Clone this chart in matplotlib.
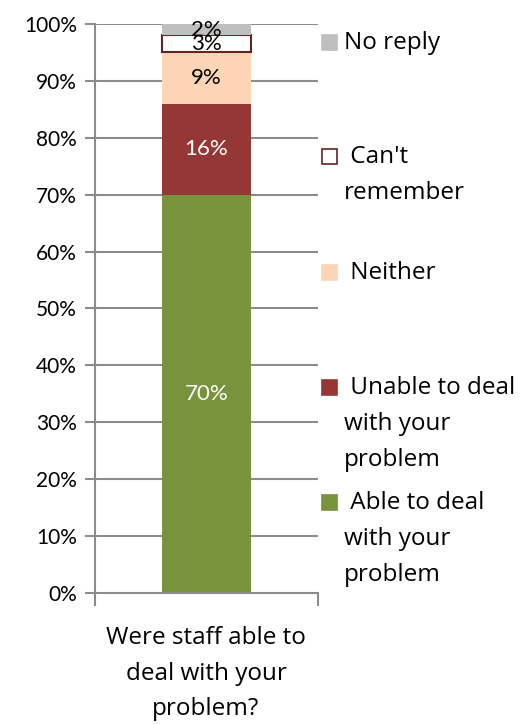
import matplotlib.pyplot as plt
from matplotlib.patches import Rectangle
from matplotlib.ticker import PercentFormatter

plt.rcParams['font.family'] = ['Lato', 'DejaVu Sans']

# Réponses, du bas vers le haut de la barre
categories = [' Able to deal\nwith your\nproblem', ' Unable to deal\nwith your\nproblem',
              ' Neither', " Can't\nremember", 'No reply']
values = [70, 16, 9, 3, 2]
colors = ['#77933C', '#953735', '#FCD5B5', '#FFFFFF', '#BFBFBF']
edges = ['none', 'none', 'none', '#632523', 'none']
label_colors = ['white', 'white', 'black', 'black', 'black']
question = 'Were staff able to\ndeal with your\nproblem?'

big = dict(family=['Open Sans', 'DejaVu Sans'], fontsize=17.5)

fig = plt.figure(figsize=(5.3, 7.24), dpi=100)
ax = fig.add_axes([0.179, 0.181, 0.421, 0.786])

grid_col = '#8C8C8C'
for y in range(10, 101, 10):
    ax.axhline(y, color=grid_col, lw=1.5, zorder=0)

bottom = 0
for val, col, ec, lc in zip(values, colors, edges, label_colors):
    ax.bar(0, val, width=0.4, bottom=bottom, color=col, edgecolor=ec,
           linewidth=1.5, zorder=2)
    ax.text(0, bottom + val / 2, f'{val}%', ha='center', va='center',
            fontsize=16, color=lc, zorder=3)
    bottom += val

ax.set_xlim(-0.5, 0.5)
ax.set_ylim(0, 100)
ax.set_yticks(range(0, 101, 10))
ax.yaxis.set_major_formatter(PercentFormatter(decimals=0))
ax.tick_params(axis='y', labelsize=15, length=7, width=1.5, color=grid_col, pad=6)
ax.set_xticks([-0.5, 0.5])
ax.set_xticklabels(['', ''])
ax.tick_params(axis='x', length=9, width=1.5, color=grid_col)
for side in ['top', 'right']:
    ax.spines[side].set_visible(False)
for side in ['left', 'bottom']:
    ax.spines[side].set_color(grid_col)
    ax.spines[side].set_linewidth(1.5)

for i, ln in enumerate(question.split('\n')):
    fig.text(206 / 530, 1 - (638 + i * 35.5) / 724, ln, ha='center', va='center', **big)

# Légende dessinée à la main (carré aligné sur la première ligne)
legend_y = [503, 388, 273, 157, 43]
for lab, col, ec, y in zip(categories, colors, edges, legend_y):
    yf = 1 - y / 724
    sq = Rectangle((322 / 530, yf - 7 / 724), 15 / 530, 15 / 724,
                   transform=fig.transFigure, facecolor=col,
                   edgecolor=ec if ec != 'none' else col, lw=1.2)
    fig.patches.append(sq)
    for i, ln in enumerate(lab.split('\n')):
        fig.text(344 / 530, yf - i * 36 / 724, ln, ha='left', va='center', **big)

fig.savefig('out.png', dpi=100)
